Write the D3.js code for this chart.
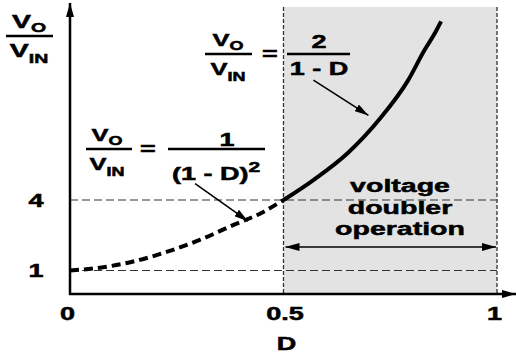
<!DOCTYPE html>
<meta charset="utf-8">
<script src="https://d3js.org/d3.v7.min.js"></script>
<style>
  body { margin: 0; background: #fff; }
  text { font-family: "Liberation Sans", Arial, sans-serif; font-weight: bold; fill: #000; stroke: #000; stroke-width: 0.5; }
</style>
<div id="my_dataviz"></div>
<script>
// values
var dashD = [0, 0.07, 0.148, 0.228, 0.305, 0.383, 0.448, 0.5];
var dashV = [1, 1.12, 1.38, 1.80, 2.31, 2.94, 3.45, 4.0];
var solidD = [0.5, 0.570, 0.650, 0.728, 0.791, 0.829, 0.857, 0.869];
var solidV = [4.0, 4.85, 5.99, 7.51, 9.07, 10.34, 11.18, 11.6];
var xTicks = [0, 0.5, 1];
var xTickLabels = ["0", "0.5", "1"];
var yTicks = [1, 4];
var yTickLabels = ["1", "4"];
var regionText = ["voltage", "doubler", "operation"];

var width = 516, height = 353;
var stretch = 1.5;   // the picture text is wide

var svg = d3.select("#my_dataviz")
  .append("svg")
    .attr("width", width)
    .attr("height", height);

var x = d3.scaleLinear().domain([0, 1]).range([70, 497]);
var y = d3.scaleLinear().domain([0, 12]).range([294, 12]);
var plotTop = 7;

var defs = svg.append("defs");
defs.append("marker")
    .attr("id", "head")
    .attr("markerUnits", "userSpaceOnUse")
    .attr("viewBox", "0 0 14 8")
    .attr("refX", 14).attr("refY", 4)
    .attr("markerWidth", 14).attr("markerHeight", 8)
    .attr("orient", "auto-start-reverse")
  .append("path")
    .attr("d", "M0,0 L14,4 L0,8 z")
    .attr("fill", "#000");

// shaded voltage doubler region
svg.append("rect")
    .attr("x", x(0.5))
    .attr("y", plotTop)
    .attr("width", x(1) - x(0.5))
    .attr("height", y(0) - plotTop)
    .attr("fill", "#e3e3e3");

// dashed guides
svg.selectAll(".hguide")
  .data(yTicks)
  .enter().append("line")
    .attr("x1", x(0)).attr("x2", x(1))
    .attr("y1", function(d) { return y(d); })
    .attr("y2", function(d) { return y(d); })
    .attr("stroke", "#333")
    .attr("stroke-width", 1.2)
    .attr("stroke-dasharray", "8,4");

svg.selectAll(".vguide")
  .data([0.5, 1])
  .enter().append("line")
    .attr("x1", function(d) { return x(d); })
    .attr("x2", function(d) { return x(d); })
    .attr("y1", plotTop).attr("y2", y(0))
    .attr("stroke", "#333")
    .attr("stroke-width", 1.3)
    .attr("stroke-dasharray", "4,2");

// curves
var line = d3.line()
  .x(function(d) { return x(d[0]); })
  .y(function(d) { return y(d[1]); })
  .curve(d3.curveMonotoneX);

svg.append("path")
    .datum(d3.zip(dashD, dashV))
    .attr("fill", "none")
    .attr("stroke", "#000")
    .attr("stroke-width", 4)
    .attr("stroke-dasharray", "9,5")
    .attr("d", line);

svg.append("path")
    .datum(d3.zip(solidD, solidV))
    .attr("fill", "none")
    .attr("stroke", "#000")
    .attr("stroke-width", 4)
    .attr("d", line);

// axes with arrows
svg.append("line")
    .attr("x1", x(0)).attr("x2", x(0))
    .attr("y1", y(0) + 1).attr("y2", 3)
    .attr("stroke", "#000").attr("stroke-width", 2.5)
    .attr("marker-end", "url(#head)");
svg.append("line")
    .attr("x1", x(0) - 1).attr("x2", 516)
    .attr("y1", y(0)).attr("y2", y(0))
    .attr("stroke", "#000").attr("stroke-width", 2.5)
    .attr("marker-end", "url(#head)");

// tick labels
var xAxis = svg.append("g")
  .attr("transform", "translate(0," + y(0) + ")")
  .call(d3.axisBottom(x).tickValues(xTicks).tickSize(0)
    .tickFormat(function(d, i) { return xTickLabels[i]; }));
xAxis.select(".domain").remove();
xAxis.selectAll("text")
  .attr("y", null).attr("dy", null)
  .attr("font-size", 18)
  .attr("fill", "#000")
  .style("font-family", "Liberation Sans, Arial, sans-serif")
  .attr("transform", function(d) { return "translate(" + (d === 0.5 ? 1 : -3) + ",26) scale(" + stretch + ",1)"; });

var yAxis = svg.append("g")
  .attr("transform", "translate(" + x(0) + ",0)")
  .call(d3.axisLeft(y).tickValues(yTicks).tickSize(0)
    .tickFormat(function(d, i) { return yTickLabels[i]; }));
yAxis.select(".domain").remove();
yAxis.selectAll("text")
  .attr("x", null).attr("dy", null)
  .attr("text-anchor", "middle")
  .attr("font-size", 18)
  .attr("fill", "#000")
  .style("font-family", "Liberation Sans, Arial, sans-serif")
  .attr("transform", "translate(-34,6) scale(" + stretch + ",1)");

// axis title D
label(svg, x(0.5) + 3, 350, 18).text("D");

function label(g, px, py, size) {
  return g.append("text")
    .attr("text-anchor", "middle")
    .attr("font-size", size)
    .attr("transform", "translate(" + px + "," + py + ") scale(" + stretch + ",1)");
}

// V_O / V_IN fraction
function ratio(cx, lineY, x0, x1, size, sub) {
  var num = label(svg, cx, lineY - 8, size);
  num.append("tspan").text("V");
  num.append("tspan").attr("font-size", sub).attr("dy", 4).text("O");
  svg.append("line")
    .attr("x1", x0).attr("x2", x1)
    .attr("y1", lineY).attr("y2", lineY)
    .attr("stroke", "#000").attr("stroke-width", 2.4);
  var den = label(svg, cx, lineY + 21, size);
  den.append("tspan").text("V");
  den.append("tspan").attr("font-size", sub).attr("dy", 6).text("IN");
}

// y axis title
ratio(29, 36, 6, 53, 19, 13);

// formula 1/(1-D)^2
ratio(107, 149, 86, 132, 17, 12);
label(svg, 148, 155, 18).text("=");
svg.append("line")
  .attr("x1", 168).attr("x2", 265)
  .attr("y1", 149).attr("y2", 149)
  .attr("stroke", "#000").attr("stroke-width", 2.4);
label(svg, 227, 146, 18).text("1");
var d1 = label(svg, 216, 180, 18);
d1.append("tspan").text("(1 - D)");
d1.append("tspan").attr("font-size", 14).attr("dy", -8).text("2");

// formula 2/(1-D)
ratio(228, 54, 205, 252, 17, 12);
label(svg, 270, 60, 18).text("=");
svg.append("line")
  .attr("x1", 287).attr("x2", 350)
  .attr("y1", 54).attr("y2", 54)
  .attr("stroke", "#000").attr("stroke-width", 2.4);
label(svg, 319, 48, 18).text("2");
label(svg, 319, 75, 18).text("1 - D");

// pointer arrows (data coordinates of tail and tip)
var pointers = [
  {from: [0.293, 4.7], to: [0.417, 3.1]},
  {from: [0.57, 9.1], to: [0.699, 7.6]}
];
svg.selectAll(".pointer")
  .data(pointers)
  .enter().append("line")
    .attr("x1", function(d) { return x(d.from[0]); })
    .attr("y1", function(d) { return y(d.from[1]); })
    .attr("x2", function(d) { return x(d.to[0]); })
    .attr("y2", function(d) { return y(d.to[1]); })
    .attr("stroke", "#000")
    .attr("stroke-width", 1.6)
    .attr("marker-end", "url(#head)");

// voltage doubler operation
svg.selectAll(".region")
  .data(regionText)
  .enter().append("text")
    .attr("text-anchor", "middle")
    .attr("font-size", 19)
    .attr("transform", function(d, i) {
      return "translate(" + 400 + "," + (192 + i * 21.5) + ") scale(" + stretch + ",1)";
    })
    .text(function(d) { return d; });

svg.append("line")
  .attr("x1", x(0.5) + 2).attr("x2", x(1) - 1)
  .attr("y1", y(2)).attr("y2", y(2))
  .attr("stroke", "#000")
  .attr("stroke-width", 1.5)
  .attr("marker-start", "url(#head)")
  .attr("marker-end", "url(#head)");
</script>
